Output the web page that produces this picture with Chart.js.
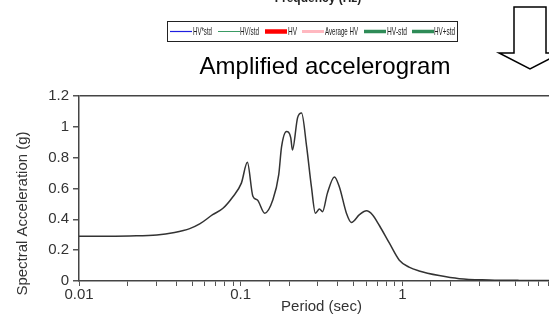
<!DOCTYPE html>
<html>
<head>
<meta charset="utf-8">
<script src="https://cdn.jsdelivr.net/npm/chart.js@4/dist/chart.umd.min.js"></script>
<style>
  html, body { margin: 0; padding: 0; background: #fff; overflow: hidden; }
  canvas { display: block; }
</style>
</head>
<body>
<canvas id="myChart" width="580" height="329"></canvas>
<script>
// period (sec) and spectral acceleration (g)
const periods = [0.01, 0.0135, 0.0206, 0.0303, 0.039, 0.0484, 0.0558, 0.0671, 0.0774, 0.0893,
  0.101, 0.110, 0.119, 0.127, 0.141, 0.158, 0.172, 0.179, 0.192, 0.204,
  0.209, 0.225, 0.238, 0.256, 0.274, 0.290, 0.307, 0.321, 0.344, 0.380,
  0.408, 0.451, 0.484, 0.543, 0.600, 0.653, 0.721, 0.832, 0.958, 1.10,
  1.27, 1.69, 2.25, 3.45, 5.27, 10];
const accel = [0.29, 0.29, 0.292, 0.298, 0.315, 0.34, 0.37, 0.43, 0.47, 0.545,
  0.635, 0.77, 0.55, 0.525, 0.44, 0.525, 0.69, 0.87, 0.97, 0.93,
  0.85, 1.06, 1.09, 0.87, 0.61, 0.44, 0.467, 0.45, 0.57, 0.675,
  0.61, 0.44, 0.38, 0.43, 0.455, 0.43, 0.36, 0.245, 0.135, 0.09,
  0.065, 0.035, 0.015, 0.007, 0.004, 0.003];

const xTickValues = [0.01, 0.1, 1, 10];
const xTickLabels = ['0.01', '0.1', '1', '10'];
const yTickLabels = ['0', '0.2', '0.4', '0.6', '0.8', '1', '1.2'];

// legend strip above the title (pasted from another figure)
const legendLabels = ['HV*std', 'HV/std', 'HV', 'Average HV', 'HV-std', 'HV+std'];
const legendColors = ['#1f1fe0', '#3a9a64', '#ff0000', '#ffb8c0', '#2e8b57', '#2e8b57'];
const legendLineWidths = [1.2, 1, 4.5, 3, 3.5, 3.5];

const headerPlugin = {
  id: 'header',
  afterDraw(chart) {
    const c = chart.ctx;
    c.save();
    c.fillStyle = '#222';
    c.textAlign = 'center';
    c.textBaseline = 'alphabetic';
    c.font = 'bold 12px "Liberation Sans Narrow", Arial, sans-serif';
    c.fillText('Frequency (Hz)', 318, 2);

    // legend box
    c.strokeStyle = '#222';
    c.lineWidth = 1;
    c.strokeRect(167.5, 21.5, 290, 20);
    const lineX = [170, 218, 265, 302, 364, 412];
    const textX = [193, 240, 288, 325, 387, 434];
    const textW = [19, 19, 9, 33, 20, 21];
    c.textAlign = 'left';
    c.textBaseline = 'middle';
    c.font = '11px "Liberation Sans Narrow", Arial, sans-serif';
    legendLabels.forEach((lab, i) => {
      c.beginPath();
      c.strokeStyle = legendColors[i];
      c.lineWidth = legendLineWidths[i];
      c.moveTo(lineX[i], 31.5);
      c.lineTo(lineX[i] + 22, 31.5);
      c.stroke();
      c.fillStyle = '#222';
      c.fillText(lab, textX[i], 32, textW[i]);
    });

    c.fillStyle = '#000';
    c.textAlign = 'center';
    c.textBaseline = 'alphabetic';
    c.font = '24px Arial, "Liberation Sans", sans-serif';
    c.fillText('Amplified accelerogram', 325, 74);

    // hollow down arrow
    c.beginPath();
    c.strokeStyle = '#000';
    c.lineWidth = 1.5;
    c.moveTo(514, 7);
    c.lineTo(546, 7);
    c.lineTo(546, 53);
    c.lineTo(561, 53);
    c.lineTo(530, 69);
    c.lineTo(499, 53);
    c.lineTo(514, 53);
    c.closePath();
    c.stroke();
    c.restore();
  }
};

const ctx = document.getElementById('myChart');

new Chart(ctx, {
  type: 'line',
  data: {
    datasets: [{
      label: 'Amplified accelerogram',
      data: periods.map((p, i) => ({ x: p, y: accel[i] })),
      borderColor: '#333',
      borderWidth: 1.5,
      pointRadius: 0,
      cubicInterpolationMode: 'monotone',
      fill: false
    }]
  },
  options: {
    responsive: false,
    animation: false,
    layout: { padding: { top: 96, right: 16, left: 0, bottom: 0 } },
    plugins: {
      legend: { display: false },
      tooltip: { enabled: false }
    },
    scales: {
      x: {
        type: 'logarithmic',
        min: 0.01,
        max: 10,
        afterFit: s => { s.height = 48; },
        border: { display: true, color: '#444', width: 1.5 },
        grid: { drawOnChartArea: false, drawTicks: true, tickLength: 5, tickColor: '#555' },
        ticks: {
          autoSkip: false,
          maxRotation: 0,
          padding: 0,
          color: '#333',
          font: { family: 'Arial', size: 15 },
          callback: v => {
            const i = xTickValues.findIndex(t => Math.abs(t - v) / t < 1e-6);
            return i >= 0 ? xTickLabels[i] : '';
          }
        },
        title: {
          display: true,
          text: 'Period (sec)',
          color: '#333',
          font: { family: 'Arial', size: 15 },
          padding: { top: 0, bottom: 13 }
        }
      },
      y: {
        min: 0,
        max: 1.2,
        afterFit: s => { s.width = 79; },
        border: { display: true, color: '#444', width: 1.5 },
        grid: {
          color: c => (c.tick && Math.abs(c.tick.value - 1.2) < 1e-6) ? '#444' : 'rgba(0,0,0,0)',
          lineWidth: 1.5,
          drawTicks: true,
          tickLength: 6,
          tickColor: '#555'
        },
        ticks: {
          stepSize: 0.2,
          padding: 4,
          color: '#333',
          font: { family: 'Arial', size: 15 },
          callback: (v, i) => yTickLabels[i]
        },
        title: {
          display: true,
          text: 'Spectral Acceleration (g)            ',
          color: '#333',
          font: { family: 'Arial', size: 15 },
          padding: { top: 14, bottom: 0 }
        }
      }
    }
  },
  plugins: [headerPlugin]
});
</script>
</body>
</html>
